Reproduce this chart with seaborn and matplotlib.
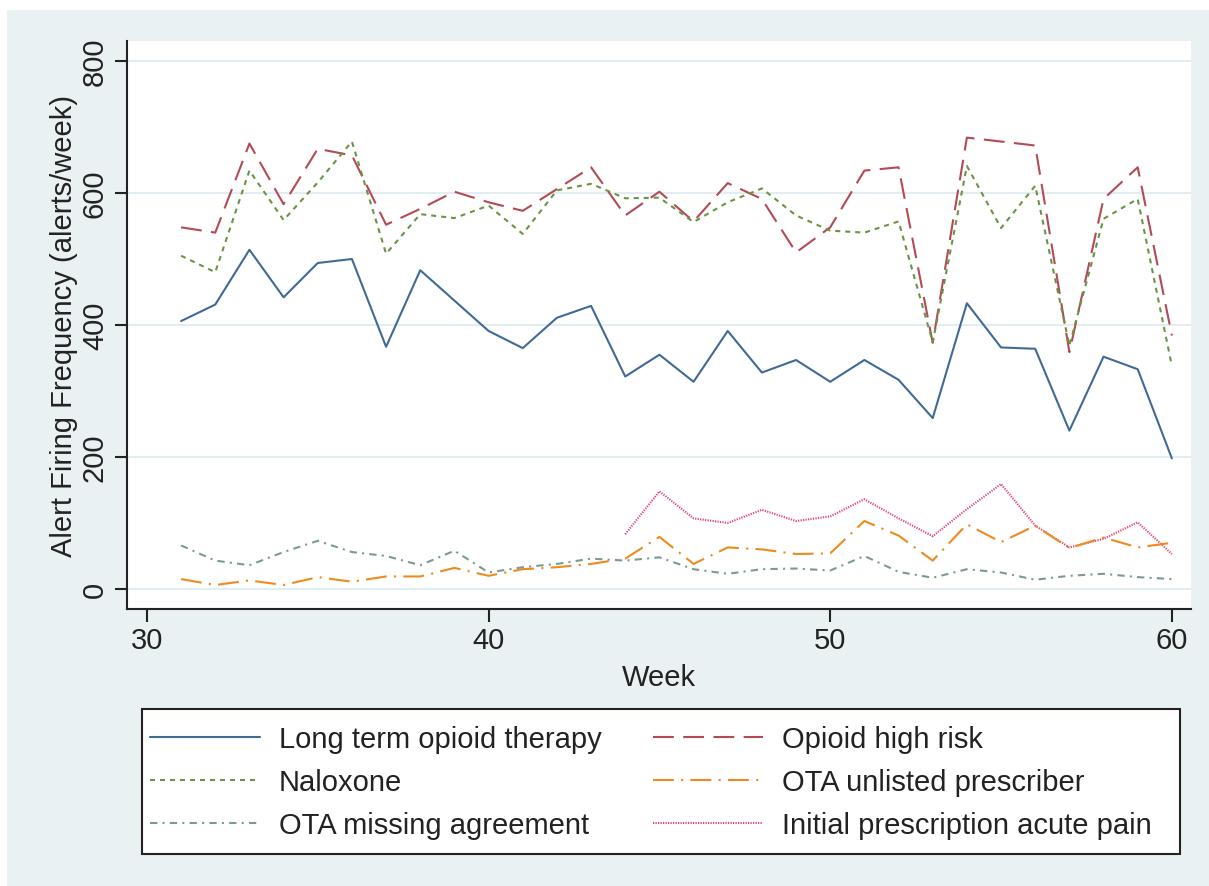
import numpy as np
import pandas as pd
import seaborn as sns
import matplotlib.pyplot as plt
from matplotlib.patches import Rectangle

# weekly alert counts
weeks = list(range(31, 61))
long_term = [406, 431, 514, 442, 494, 500, 367, 483, 437, 391,
             365, 411, 429, 322, 355, 314, 391, 328, 347, 314,
             347, 317, 259, 433, 366, 364, 240, 352, 333, 198]
high_risk = [548, 540, 675, 583, 667, 657, 552, 576, 602, 586,
             573, 606, 639, 566, 602, 557, 615, 591, 510, 548,
             634, 639, 373, 684, 678, 672, 359, 591, 639, 384]
naloxone = [505, 480, 634, 559, 616, 678, 508, 568, 562, 581,
            538, 604, 614, 592, 593, 556, 586, 607, 566, 543,
            540, 557, 374, 641, 547, 611, 369, 561, 591, 338]
ota_unlisted = [15, 6, 13, 6, 18, 11, 19, 19, 32, 20,
                30, 33, 38, 46, 79, 38, 63, 60, 53, 54,
                103, 81, 43, 98, 71, 96, 62, 78, 63, 70]
ota_missing = [66, 43, 36, 56, 73, 56, 50, 36, 58, 25,
               33, 38, 46, 43, 48, 30, 23, 30, 31, 28,
               50, 26, 17, 30, 25, 14, 20, 23, 18, 15]
weeks_acute = list(range(44, 61))
acute_pain = [83, 148, 107, 100, 120, 103, 110, 136, 107, 80,
              121, 159, 96, 63, 76, 101, 53]

BG = '#E9F1F3'
W, H = 1209, 887

sns.set_style('white')
plt.rcParams['font.family'] = ['Liberation Sans', 'DejaVu Sans']

fig = plt.figure(figsize=(W / 100, H / 100), dpi=100, facecolor='white')
fig.patches.append(Rectangle((7 / W, 0), 1, 876 / H, transform=fig.transFigure,
                             facecolor=BG, edgecolor='none', zorder=-10))
ax = fig.add_axes([0.105, 0.3123, 0.880, 0.6403])
ax.set_facecolor('white')

series = [
    ('Long term opioid therapy', weeks, long_term, '#3F6A96', '-'),
    ('Naloxone', weeks, naloxone, '#6A9444', (0, (2.4, 2.4))),
    ('OTA missing agreement', weeks, ota_missing, '#7C9A92', (0, (3.5, 2.5, 1, 2.5))),
    ('Opioid high risk', weeks, high_risk, '#B34A55', (0, (10, 4.5))),
    ('OTA unlisted prescriber', weeks, ota_unlisted, '#EE8A1E', (0, (10, 3.5, 1, 3.5))),
    ('Initial prescription acute pain', weeks_acute, acute_pain, '#E2456E', (0, (0.6, 0.6))),
]
# draw in stacking order: acute first, long term on top
handles = {}
for name, x, y, col, ls in series[::-1]:
    sns.lineplot(x=x, y=y, ax=ax, color=col, linestyle=ls, linewidth=1.5, label=name)
for line in ax.get_lines():
    handles[line.get_label()] = line
ax.get_legend().remove()

ax.set_xlim(29.415, 60.556)
ax.set_ylim(-30.3, 830.3)
ax.set_xticks([30, 40, 50, 60])
ax.set_yticks([0, 200, 400, 600, 800])
ax.grid(axis='y', color='#E1EDF1', linewidth=1.5)
ax.grid(axis='x', visible=False)
for s in ['top', 'right']:
    ax.spines[s].set_visible(False)
for s in ['left', 'bottom']:
    ax.spines[s].set_color('#222222')
    ax.spines[s].set_linewidth(1.5)
ax.tick_params(axis='both', direction='out', length=9, width=1.5, color='#222222',
               labelsize=21, labelcolor='#222222', left=True, bottom=True)
ax.tick_params(axis='y', pad=4)
for lab in ax.get_yticklabels():
    lab.set_rotation(90)
    lab.set_va('center')
ax.set_xlabel('Week', fontsize=21, color='#222222', labelpad=6)
ax.set_ylabel('Alert Firing Frequency (alerts/week)', fontsize=21, color='#222222', labelpad=2)

# legend frame drawn by hand, entries placed inside it
fig.patches.append(Rectangle((142 / W, (H - 855) / H), 1038 / W, 145 / H,
                             transform=fig.transFigure, facecolor='white',
                             edgecolor='#222222', linewidth=1.5, zorder=1))
order = [s[0] for s in series]
leg = fig.legend([handles[n] for n in order], order, ncol=2,
                 loc='upper left', bbox_to_anchor=(150 / W, (H - 726) / H),
                 fontsize=21, frameon=False, handlelength=3.77,
                 handletextpad=0.65, labelspacing=0.52, columnspacing=1.75,
                 borderpad=0, borderaxespad=0)
leg.set_zorder(2)
for t in leg.get_texts():
    t.set_color('#222222')

fig.savefig('out.png', dpi=100, facecolor=fig.get_facecolor())
